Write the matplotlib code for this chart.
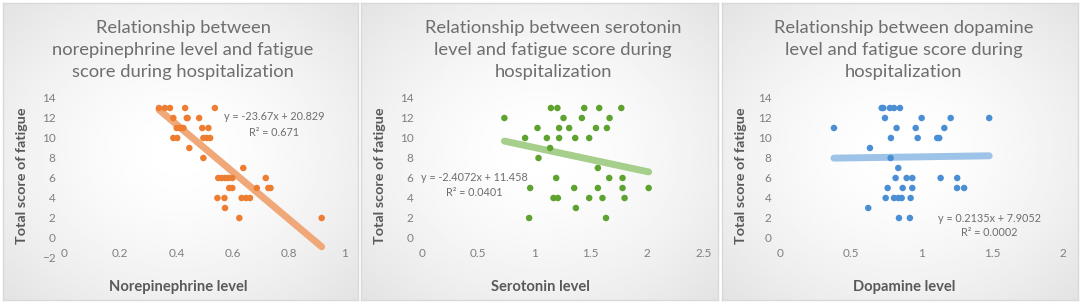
import numpy as np
import matplotlib.pyplot as plt

plt.rcParams['font.family'] = ['Lato', 'DejaVu Sans']

# ---- data ----
nor_level = [0.338, 0.359, 0.377, 0.431, 0.537,
             0.389, 0.437, 0.440, 0.481,
             0.401, 0.413, 0.425, 0.492, 0.514,
             0.389, 0.403, 0.496, 0.508, 0.520,
             0.446, 0.496, 0.638,
             0.549, 0.561, 0.573, 0.585, 0.599, 0.718,
             0.588, 0.599, 0.686, 0.727, 0.735,
             0.546, 0.571, 0.632, 0.648, 0.662,
             0.573, 0.624, 0.917]
nor_fatigue = [13, 13, 13, 13, 13,
               12, 12, 12, 12,
               11, 11, 11, 11, 11,
               10, 10, 10, 10, 10,
               9, 8, 7,
               6, 6, 6, 6, 6, 6,
               5, 5, 5, 5, 5,
               4, 4, 4, 4, 4,
               3, 2, 2]

ser_level = [1.147, 1.205, 1.443, 1.576, 1.772,
             0.734, 1.259, 1.422, 1.668,
             1.028, 1.220, 1.309, 1.547, 1.644,
             0.918, 1.111, 1.220, 1.363, 1.487,
             1.140, 1.037, 1.564,
             1.194, 1.665, 1.783,
             0.963, 1.354, 1.564, 1.783, 2.015,
             1.170, 1.209, 1.487, 1.605, 1.801,
             1.369, 0.954, 1.636]
ser_fatigue = [13, 13, 13, 13, 13,
               12, 12, 12, 12,
               11, 11, 11, 11, 11,
               10, 10, 10, 10, 10,
               9, 8, 7,
               6, 6, 6,
               5, 5, 5, 5, 5,
               4, 4, 4, 4, 4,
               3, 2, 2]

dop_level = [0.718, 0.729, 0.776, 0.805, 0.847,
             0.741, 1.000, 1.205, 1.477,
             0.381, 0.823, 0.958, 1.160,
             0.783, 0.972, 1.110, 1.124,
             0.635, 0.781, 0.835,
             0.816, 0.894, 0.934, 1.134, 1.251,
             0.760, 0.866, 0.934, 1.250, 1.300,
             0.746, 0.805, 0.835, 0.859, 0.922,
             0.623, 0.840, 0.917]
dop_fatigue = [13, 13, 13, 13, 13,
               12, 12, 12, 12,
               11, 11, 11, 11,
               10, 10, 10, 10,
               9, 8, 7,
               6, 6, 6, 6, 6,
               5, 5, 5, 5, 5,
               4, 4, 4, 4, 4,
               3, 2, 2]

# trendline coefficients (slope, intercept) as printed on the chart
nor_fit = (-23.67, 20.829)
ser_fit = (-2.4072, 11.458)
dop_fit = (0.2135, 7.9052)

nor_eq = ['y = -23.67x + 20.829', 'R² = 0.671']
ser_eq = ['y = -2.4072x + 11.458', 'R² = 0.0401']
dop_eq = ['y = 0.2135x + 7.9052', 'R² = 0.0002']

nor_title = ['Relationship between', 'norepinephrine level and fatigue', 'score during hospitalization']
ser_title = ['Relationship between serotonin', 'level and fatigue score during', 'hospitalization']
dop_title = ['Relationship between dopamine', 'level and fatigue score during', 'hospitalization']

W, H = 1084, 306
fig = plt.figure(figsize=(W / 100, H / 100), dpi=100)


def fx(px):
    return px / W


def fy(py):
    return 1 - py / H


def panel_bg(x0, x1, y0, y1):
    bg = fig.add_axes([fx(x0), fy(y1), fx(x1 - x0), (y1 - y0) / H])
    yy, xx = np.mgrid[-1:1:150j, -1:1:150j]
    r = np.sqrt(xx ** 2 + yy ** 2) / np.sqrt(2)
    shade = 1 - 0.11 * r ** 1.6
    bg.imshow(shade, cmap='gray', vmin=0, vmax=1, aspect='auto',
              interpolation='bilinear')
    bg.set_xticks([])
    bg.set_yticks([])
    for s in bg.spines.values():
        s.set_color('#d9d9d9')
        s.set_linewidth(1)
    return bg


panels = [
    dict(rect=(3, 358, 3, 300), ax=(64, 345, 98, 258), x=nor_level, y=nor_fatigue,
         fit=nor_fit, eq=nor_eq, eq_pos=(274, 117, 133), title=nor_title, tx=183,
         xlim=(0, 1), xt=[0, 0.2, 0.4, 0.6, 0.8, 1], xtl=['0', '0.2', '0.4', '0.6', '0.8', '1'],
         ylim=(-2, 14), yt=range(-2, 15, 2), xlabel='Norepinephrine level', xl=178,
         dot='#ed7d31', line='#f0a878'),
    dict(rect=(361, 718, 3, 300), ax=(421.7, 703.3, 98, 238), x=ser_level, y=ser_fatigue,
         fit=ser_fit, eq=ser_eq, eq_pos=(474, 177, 192), title=ser_title, tx=553,
         xlim=(0, 2.5), xt=[0, 0.5, 1, 1.5, 2, 2.5], xtl=['0', '0.5', '1', '1.5', '2', '2.5'],
         ylim=(0, 14), yt=range(0, 15, 2), xlabel='Serotonin level', xl=540,
         dot='#5ea22f', line='#a6cf8c'),
    dict(rect=(722, 1078, 3, 300), ax=(780, 1063.3, 98, 238), x=dop_level, y=dop_fatigue,
         fit=dop_fit, eq=dop_eq, eq_pos=(989, 218, 232), title=dop_title, tx=904,
         xlim=(0, 2), xt=[0, 0.5, 1, 1.5, 2], xtl=['0', '0.5', '1', '1.5', '2'],
         ylim=(0, 14), yt=range(0, 15, 2), xlabel='Dopamine level', xl=904,
         dot='#4a8fd4', line='#9ec3e8'),
]

title_c = '#6e6e6e'
label_c = '#595959'
tick_c = '#7f7f7f'

for p in panels:
    panel_bg(*p['rect'])
    l, r, t, b = p['ax']
    ax = fig.add_axes([fx(l), fy(b), fx(r - l), (b - t) / H])
    ax.set_facecolor('none')
    ax.set_xlim(*p['xlim'])
    ax.set_ylim(*p['ylim'])
    ax.set_xticks(p['xt'])
    ax.set_xticklabels(p['xtl'])
    ax.set_yticks(list(p['yt']))
    for s in ax.spines.values():
        s.set_visible(False)
    ax.spines['bottom'].set_position(('data', 0))
    ax.tick_params(length=0, labelsize=8.5, labelcolor=tick_c)
    ax.tick_params(axis='x', pad=7)
    ax.tick_params(axis='y', pad=6)

    xs = np.array(p['x'])
    a, c = p['fit']
    lx = np.array([xs.min(), xs.max()])
    ax.plot(lx, a * lx + c, color=p['line'], lw=5, solid_capstyle='round', zorder=2)
    ax.scatter(p['x'], p['y'], s=22, color=p['dot'], edgecolors='none', zorder=3)

    ex, ey1, ey2 = p['eq_pos']
    fig.text(fx(ex), fy(ey1), p['eq'][0], ha='center', va='center', fontsize=7.8, color='#6e6e6e')
    fig.text(fx(ex), fy(ey2), p['eq'][1], ha='center', va='center', fontsize=7.8, color='#6e6e6e')

    for i, line in enumerate(p['title']):
        fig.text(fx(p['tx']), fy(28.5 + 21.7 * i), line, ha='center', va='center',
                 fontsize=13.2, color=title_c)

    fig.text(fx(p['xl']), fy(287), p['xlabel'], ha='center', va='center',
             fontsize=10.6, fontweight='bold', color=label_c)
    fig.text(fx(p['rect'][0] + 19), fy(176), 'Total score of fatigue', ha='center', va='center',
             rotation=90, fontsize=10.4, fontweight='bold', color=label_c)

fig.savefig('out.png', dpi=100)
